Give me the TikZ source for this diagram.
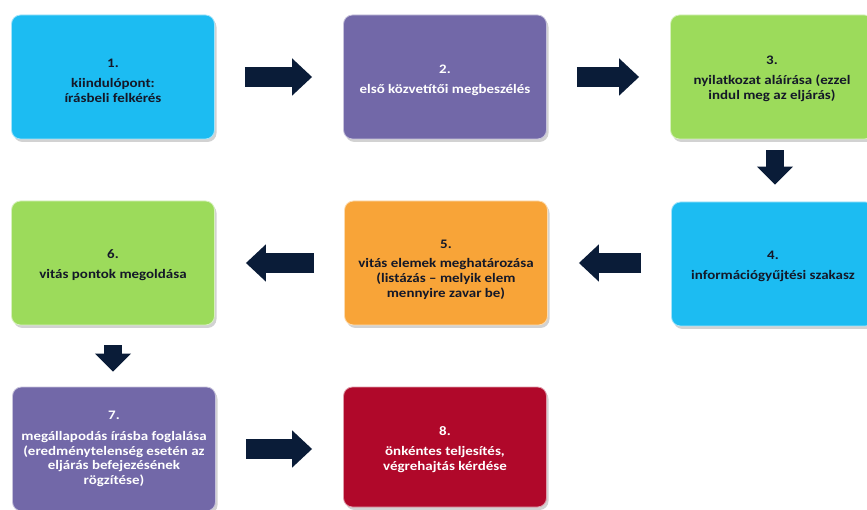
\documentclass[tikz,border=0pt]{standalone}
\usepackage{fontspec}
\setmainfont{Carlito}[FakeStretch=1.15]
\usetikzlibrary{arrows.meta,shadows}
\definecolor{cCyan}{RGB}{28,188,242}
\definecolor{cPurple}{RGB}{114,104,168}
\definecolor{cGreen}{RGB}{156,219,91}
\definecolor{cOrange}{RGB}{248,164,56}
\definecolor{cRed}{RGB}{176,8,42}
\definecolor{cNavy}{RGB}{10,28,56}
\definecolor{cText}{RGB}{20,24,40}
\newcommand{\numline}[2]{\rule{0pt}{#1}#2}
\tikzset{
  stepbox/.style={rounded corners=9pt, minimum width=203pt, minimum height=124pt,
    align=center, font=\fontsize{13}{14.8}\selectfont\bfseries, inner sep=2pt,
    drop shadow={shadow xshift=2pt, shadow yshift=-3pt, opacity=0.35},
    draw=white!60!#1, line width=0.8pt, fill=#1},
  darktext/.style={text=cText},
  lighttext/.style={text=white},
  blockarrow/.style={draw=cNavy, line width=20pt,
    -{Triangle[length=20pt,width=36pt,fill=cNavy]},
    shorten <=30pt, shorten >=31pt},
  downarrow/.style={draw=cNavy, line width=18pt,
    -{Triangle[length=18pt,width=35pt,fill=cNavy]}}
}
\begin{document}
\begin{tikzpicture}[x=1pt,y=-1pt]
\useasboundingbox (0,0) rectangle (867,510);
\clip (0,0) rectangle (867,510);
\fill[white] (0,0) rectangle (867,510);

\node[stepbox=cCyan, darktext] (b1) at (113,77) {\numline{16pt}{1.}\\[5pt]kiindulópont:\\írásbeli felkérés};
\node[stepbox=cPurple, lighttext] (b2) at (445,77) {\numline{16pt}{2.}\\[5pt]első közvetítői megbeszélés};
\node[stepbox=cGreen, darktext] (b3) at (772,77) {\numline{12pt}{3.}\\[5pt]nyilatkozat aláírása (ezzel\\indul meg az eljárás)};
\node[stepbox=cCyan, darktext] (b4) at (773,264) {\numline{13pt}{4.}\\[5pt]információgyűjtési szakasz};
\node[stepbox=cOrange, darktext] (b5) at (446,263) {\numline{22pt}{5.}\\[4pt]vitás elemek meghatározása\\(listázás -- melyik elem\\mennyire zavar be)};
\node[stepbox=cGreen, darktext] (b6) at (113,263) {\numline{14pt}{6.}\\[5pt]vitás pontok megoldása};
\node[stepbox=cPurple, lighttext] (b7) at (114,449) {7.\\[6pt]megállapodás írásba foglalása\\(eredménytelenség esetén az\\eljárás befejezésének\\rögzítése)};
\node[stepbox=cRed, lighttext, minimum height=120pt] (b8) at (445,447) {\numline{14pt}{8.}\\[5pt]önkéntes teljesítés,\\végrehajtás kérdése};

\draw[blockarrow] (b1.east |- 0,77) -- (b2.west |- 0,77);
\draw[blockarrow] (b2.east |- 0,77) -- (b3.west |- 0,77);
\draw[downarrow, shorten <=11pt, shorten >=17pt] (b3.south -| 775,0) -- (b4.north -| 775,0);
\draw[blockarrow] (b4.west |- 0,263) -- (b5.east |- 0,263);
\draw[blockarrow] (b5.west |- 0,263) -- (b6.east |- 0,263);
\draw[downarrow, shorten <=20pt, shorten >=15pt] (b6.south -| 113,0) -- (b7.north -| 113,0);
\draw[blockarrow] (b7.east |- 0,449) -- (b8.west |- 0,449);
\end{tikzpicture}
\end{document}
